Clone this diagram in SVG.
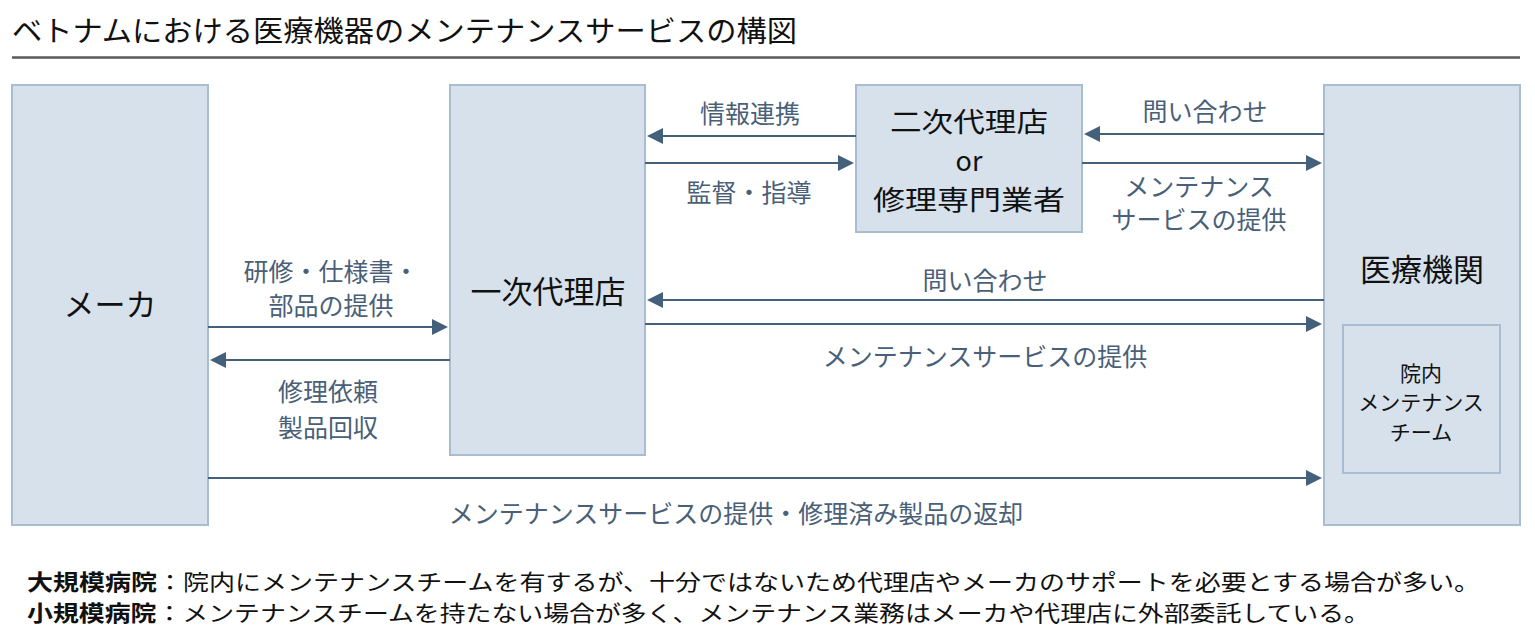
<svg xmlns="http://www.w3.org/2000/svg" width="1535" height="638" viewBox="0 0 1535 638">
<style>
.box{fill:#d6e1eb;stroke:#a9bdd0;stroke-width:2}
.inner{fill:#d6e1eb;stroke:#a9bdd0;stroke-width:2}
.conn{stroke:#44617b;stroke-width:2;fill:none;marker-end:url(#ah)}
.node{font-family:"Noto Sans CJK JP","Liberation Sans",sans-serif;font-size:31px;fill:#111;text-anchor:middle}
.node2{font-family:"Noto Sans CJK JP","Liberation Sans",sans-serif;font-size:27px;fill:#111;text-anchor:middle}
.small{font-family:"Noto Sans CJK JP","Liberation Sans",sans-serif;font-size:21px;fill:#111;text-anchor:middle}
.lbl{font-family:"Noto Sans CJK JP","Liberation Sans",sans-serif;font-size:25px;fill:#4a5f78;text-anchor:middle}
.title{font-family:"Noto Sans CJK JP","Liberation Sans",sans-serif;font-size:29px;fill:#111}
.foot{font-family:"Noto Sans CJK JP","Liberation Sans",sans-serif;font-size:22px;fill:#111}
</style>
<defs>
<marker id="ah" markerWidth="8" markerHeight="8" refX="7" refY="4" orient="auto" markerUnits="strokeWidth">
<path d="M0,0 L8,4 L0,8 z" fill="#44617b"/>
</marker>
</defs>
<rect width="1535" height="638" fill="#fff"/>
<text class="title" x="12" y="42" textLength="785" lengthAdjust="spacingAndGlyphs">ベトナムにおける医療機器のメンテナンスサービスの構図</text>
<line x1="12" y1="57.5" x2="1520" y2="57.5" stroke="#595959" stroke-width="2.5"/>

<g id="maker">
<rect class="box" x="12" y="85" width="196" height="440"/>
<text class="node" x="110" y="316">メーカ</text>
</g>
<g id="primary">
<rect class="box" x="450" y="85" width="195" height="370"/>
<text class="node" x="548" y="303">一次代理店</text>
</g>
<g id="secondary">
<rect class="box" x="856" y="85" width="226" height="147"/>
<text class="node2" x="969" y="132" textLength="158" lengthAdjust="spacingAndGlyphs">二次代理店</text>
<text class="node2" x="969" y="171">or</text>
<text class="node2" x="969" y="210" textLength="192" lengthAdjust="spacingAndGlyphs">修理専門業者</text>
</g>
<g id="hospital">
<rect class="box" x="1324" y="85" width="196" height="440"/>
<text class="node" x="1422" y="281">医療機関</text>
</g>
<g id="inhouse">
<rect class="inner" x="1343" y="325" width="157" height="148"/>
<text class="small" x="1421" y="381">院内</text>
<text class="small" x="1421" y="410">メンテナンス</text>
<text class="small" x="1421" y="440">チーム</text>
</g>

<g id="connectors">
<line class="conn" x1="856" y1="136" x2="649" y2="136"/>
<line class="conn" x1="645" y1="163" x2="852" y2="163"/>
<line class="conn" x1="1324" y1="134" x2="1086" y2="134"/>
<line class="conn" x1="1082" y1="163" x2="1320" y2="163"/>
<line class="conn" x1="1324" y1="300" x2="649" y2="300"/>
<line class="conn" x1="645" y1="324" x2="1320" y2="324"/>
<line class="conn" x1="208" y1="327" x2="446" y2="327"/>
<line class="conn" x1="450" y1="360" x2="212" y2="360"/>
<line class="conn" x1="208" y1="478" x2="1320" y2="478"/>
</g>

<g id="labels">
<text class="lbl" x="750" y="123">情報連携</text>
<text class="lbl" x="749" y="202">監督・指導</text>
<text class="lbl" x="1205" y="121">問い合わせ</text>
<text class="lbl" x="1199" y="196">メンテナンス</text>
<text class="lbl" x="1199" y="229">サービスの提供</text>
<text class="lbl" x="331" y="281">研修・仕様書・</text>
<text class="lbl" x="331" y="315">部品の提供</text>
<text class="lbl" x="328" y="401">修理依頼</text>
<text class="lbl" x="328" y="437">製品回収</text>
<text class="lbl" x="985" y="290">問い合わせ</text>
<text class="lbl" x="985" y="366">メンテナンスサービスの提供</text>
<text class="lbl" x="736" y="523">メンテナンスサービスの提供・修理済み製品の返却</text>
</g>

<text class="foot" x="27" y="590" textLength="1453" lengthAdjust="spacingAndGlyphs"><tspan font-weight="bold">大規模病院</tspan>：院内にメンテナンスチームを有するが、十分ではないため代理店やメーカのサポートを必要とする場合が多い。</text>
<text class="foot" x="27" y="621" textLength="1343" lengthAdjust="spacingAndGlyphs"><tspan font-weight="bold">小規模病院</tspan>：メンテナンスチームを持たない場合が多く、メンテナンス業務はメーカや代理店に外部委託している。</text>
</svg>
